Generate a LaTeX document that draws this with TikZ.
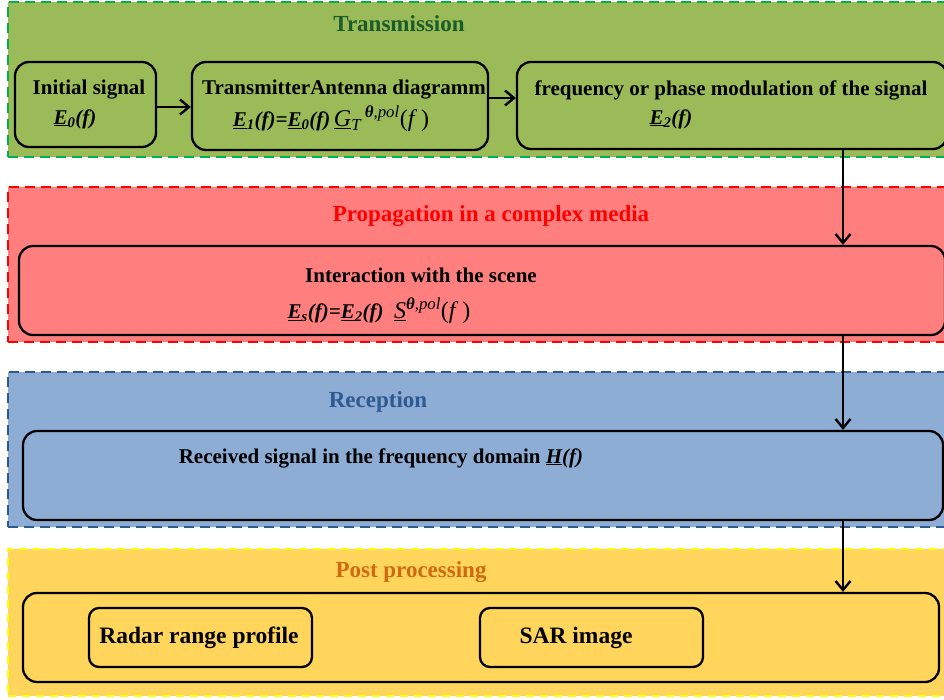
\documentclass[tikz,border=0pt]{standalone}
\usepackage{fontspec}
\setmainfont{Liberation Serif}
\usetikzlibrary{arrows.meta,calc}
\definecolor{gfill}{HTML}{9BBB59}
\definecolor{gline}{HTML}{00B050}
\definecolor{gtitle}{HTML}{1A5C2A}
\definecolor{rfill}{HTML}{FF7F7F}
\definecolor{rline}{HTML}{FF0000}
\definecolor{rtitle}{HTML}{FF0000}
\definecolor{bfill}{HTML}{8DADD5}
\definecolor{bline}{HTML}{2E5A8C}
\definecolor{btitle}{HTML}{2E5A91}
\definecolor{yfill}{HTML}{FFD55B}
\definecolor{yline}{HTML}{FFFF00}
\definecolor{ytitle}{HTML}{D06A10}
\newcommand\myuE{\underline{E}}
\newcommand\mybig{\fontsize{24}{28}\selectfont}
\begin{document}
\begin{tikzpicture}[x=1pt,y=-1pt,
  panel/.style={rectangle, inner sep=0pt, line width=2.4pt, dash pattern=on 10pt off 6pt},
  box/.style={rectangle, rounded corners=14pt, draw=black, line width=2.3pt, inner sep=0pt},
  ttl/.style={font=\fontsize{23}{27}\selectfont\bfseries, inner sep=0pt},
  txt/.style={font=\fontsize{21}{25}\selectfont\bfseries, inner sep=0pt},
  bigtxt/.style={font=\fontsize{23.5}{27}\selectfont\bfseries, inner sep=0pt},
  mth/.style={font=\fontsize{21}{25}\selectfont, inner sep=0pt},
  arr/.style={draw=black, line width=2.6pt, -{Straight Barb[length=9pt,width=15pt,line width=2.4pt]}}
]
\useasboundingbox (0,0) rectangle (944,700);
\clip (0,0) rectangle (944,700);
\fill[white] (0,0) rectangle (944,700);

% panels
\node[panel, fill=gfill, draw=gline, minimum width=944pt, minimum height=155pt] (ptrans) at (480,79.5) {};
\node[panel, fill=rfill, draw=rline, minimum width=944pt, minimum height=155pt] (pprop) at (480,264.5) {};
\node[panel, fill=bfill, draw=bline, minimum width=944pt, minimum height=155pt] (prec) at (480,449.5) {};
\node[panel, fill=yfill, draw=yline, line width=1.6pt, dash pattern=on 8pt off 6pt, minimum width=944pt, minimum height=147pt] (ppost) at (480,622.5) {};

% titles
\node[ttl, text=gtitle] (t1) at (399,24) {Transmission};
\node[ttl, text=rtitle] (t2) at (491,216) {Propagation in a complex media};
\node[ttl, text=btitle] (t3) at (378,402) {Reception};
\node[ttl, text=ytitle] (t4) at (411,572) {Post processing};

% transmission boxes
\node[box, minimum width=141pt, minimum height=85pt] (init) at (85.5,104.5) {};
\node[box, minimum width=296pt, minimum height=88pt] (trans) at (340,106) {};
\node[box, minimum width=430pt, minimum height=87pt] (freq) at (732,105.5) {};

\node[txt] (l1) at (89,90) {Initial signal};
\node[mth] (l1m) at (75,119) {\textbf{\textit{\myuE\textsubscript{0}(f)}}};
\node[txt] (l2) at (344,90) {TransmitterAntenna diagramm};
\node[mth] (l2m) at (331,119) {\textbf{\textit{\myuE\textsubscript{1}(f)=\myuE\textsubscript{0}(f)}}\,{\mybig\underline{\textit{G}}\textsubscript{\textit{T}}\textsuperscript{\,\textbf{\textit{θ}}\textit{,pol}}(\textit{f}\,)}};
\node[txt] (l3) at (731,90) {frequency or phase modulation of the signal};
\node[mth] (l3m) at (671,119) {\textbf{\textit{\myuE\textsubscript{2}(f)}}};

% propagation
\node[box, minimum width=926pt, minimum height=89pt] (inter) at (482,290.5) {};
\node[txt] (l4) at (421,275) {Interaction with the scene};
\node[mth] (l4m) at (379,311) {\textbf{\textit{\myuE\textsubscript{s}(f)=\myuE\textsubscript{2}(f)}}\ \ {\mybig\underline{\textit{S}}\textsuperscript{\textbf{\textit{θ}}\textit{,pol}}(\textit{f}\,)}};

% reception
\node[box, minimum width=920pt, minimum height=89pt] (recv) at (483,475.5) {};
\node[txt] (l5) at (381,458) {Received signal in the frequency domain \textit{\underline{H}(f)}};

% post processing
\node[box, minimum width=916pt, minimum height=89pt] (post) at (481,637.5) {};
\node[box, rounded corners=10pt, minimum width=223pt, minimum height=59pt] (radar) at (200.5,637.5) {};
\node[box, rounded corners=10pt, minimum width=223pt, minimum height=59pt] (sar) at (591.5,637.5) {};
\node[bigtxt] (l6) at (199,638) {Radar range profile};
\node[bigtxt] (l7) at (576,638) {SAR image};

% connectors
\draw[arr] (init.east |- 0,107) -- (trans.west |- 0,107);
\draw[arr] (trans.east |- 0,98) -- (freq.west |- 0,98);
\draw[arr] (freq.south -| 843,0) -- (inter.north -| 843,0);
\draw[arr] (inter.south -| 843,0) -- (recv.north -| 843,0);
\draw[arr] (recv.south -| 843,0) -- (post.north -| 843,0);
\end{tikzpicture}
\end{document}
